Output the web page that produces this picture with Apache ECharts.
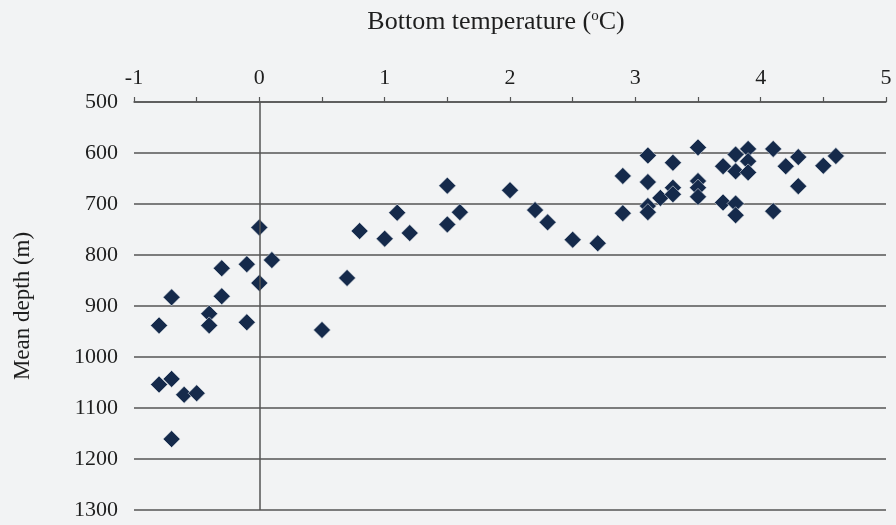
<!DOCTYPE html>
<html>
<head>
<meta charset="utf-8">
<script src="https://cdn.jsdelivr.net/npm/echarts@6/dist/echarts.min.js"></script>
<style>
  html, body { margin: 0; padding: 0; background: #f2f3f4; }
  #chart { width: 896px; height: 525px; }
</style>
</head>
<body>
<div id="chart"></div>
<script>
// Bottom temperature (°C) of each station
const temperature = [
  0.0, 0.1, -0.1, -0.3, 0.0, -0.7, -0.3, -0.4, -0.4, -0.8, -0.1,
  -0.8, -0.7, -0.6, -0.5, -0.7,
  0.5, 0.7, 0.8, 1.0, 1.1, 1.2, 1.5, 1.5, 1.6,
  2.0, 2.2, 2.3, 2.5, 2.7,
  2.9, 2.9, 3.1, 3.1, 3.1, 3.1, 3.2, 3.3, 3.3, 3.3,
  3.5, 3.5, 3.5, 3.5, 3.7, 3.7,
  3.8, 3.9, 3.9, 3.8, 3.9, 3.8, 3.8,
  4.1, 4.1, 4.2, 4.3, 4.3, 4.5, 4.6
];

// Mean depth (m) of each station
const depth = [
  746, 810, 818, 826, 855, 883, 881, 915, 938, 938, 932,
  1054, 1043, 1074, 1071, 1161,
  947, 845, 753, 768, 717, 757, 664, 740, 716,
  673, 712, 736, 770, 777,
  645, 718, 605, 657, 704, 716, 688, 619, 668, 681,
  589, 655, 668, 686, 626, 697,
  603, 592, 616, 636, 638, 699, 722,
  592, 714, 626, 608, 665, 625, 606
];

const xTicks = [-1, 0, 1, 2, 3, 4, 5];
const depthTicks = [500, 600, 700, 800, 900, 1000, 1100, 1200, 1300];

const points = temperature.map((t, i) => [t, depth[i]]);

const serif = '"Liberation Serif", "Times New Roman", serif';
const ink = '#1e1e1e';
const rule = '#555555';

const chart = echarts.init(document.getElementById('chart'), null, { renderer: 'canvas' });

chart.setOption({
  backgroundColor: '#f2f3f4',
  animation: false,
  title: {
    text: 'Bottom temperature ({sup|o}C)',
    left: 491,
    top: 4,
    textAlign: 'center',
    textStyle: {
      fontFamily: serif,
      fontSize: 26,
      fontWeight: 'normal',
      color: ink,
      rich: {
        sup: { fontFamily: serif, fontSize: 15, verticalAlign: 'top', lineHeight: 15, padding: [0, 0, 10, 0], color: ink }
      }
    }
  },
  grid: { left: 134, right: 10, top: 102, bottom: 15, containLabel: false },
  xAxis: {
    type: 'value',
    position: 'top',
    min: xTicks[0],
    max: xTicks[xTicks.length - 1],
    interval: 1,
    axisLine: { show: true, onZero: false, lineStyle: { color: rule, width: 1.5 } },
    axisTick: { show: true, length: 5, lineStyle: { color: rule, width: 1.2 } },
    minorTick: { show: true, splitNumber: 2, length: 5, lineStyle: { color: rule, width: 1.2 } },
    splitLine: { show: false },
    axisLabel: {
      margin: 13,
      fontFamily: serif,
      fontSize: 22,
      color: ink,
      formatter: v => (xTicks.includes(v) ? String(v) : '')
    }
  },
  yAxis: {
    type: 'value',
    inverse: true,
    min: depthTicks[0],
    max: depthTicks[depthTicks.length - 1],
    interval: 100,
    name: 'Mean depth (m)',
    nameLocation: 'middle',
    nameGap: 100,
    nameRotate: 90,
    nameTextStyle: { fontFamily: serif, fontSize: 23, color: ink },
    axisLine: { show: false },
    axisTick: { show: false },
    splitLine: { show: true, lineStyle: { color: rule, width: 1.5 } },
    axisLabel: {
      margin: 16,
      fontFamily: serif,
      fontSize: 22,
      color: ink,
      formatter: v => (depthTicks.includes(v) ? String(v) : '')
    }
  },
  series: [{
    type: 'scatter',
    data: points,
    symbol: 'diamond',
    symbolSize: 17,
    itemStyle: { color: '#152a4b', borderColor: '#dfe4ea', borderWidth: 0.6, opacity: 1 },
    markLine: {
      silent: true,
      symbol: ['none', 'none'],
      label: { show: false },
      lineStyle: { color: rule, width: 1.5, type: 'solid' },
      data: [{ xAxis: 0 }]
    },
    z: 3
  }]
});
</script>
</body>
</html>
